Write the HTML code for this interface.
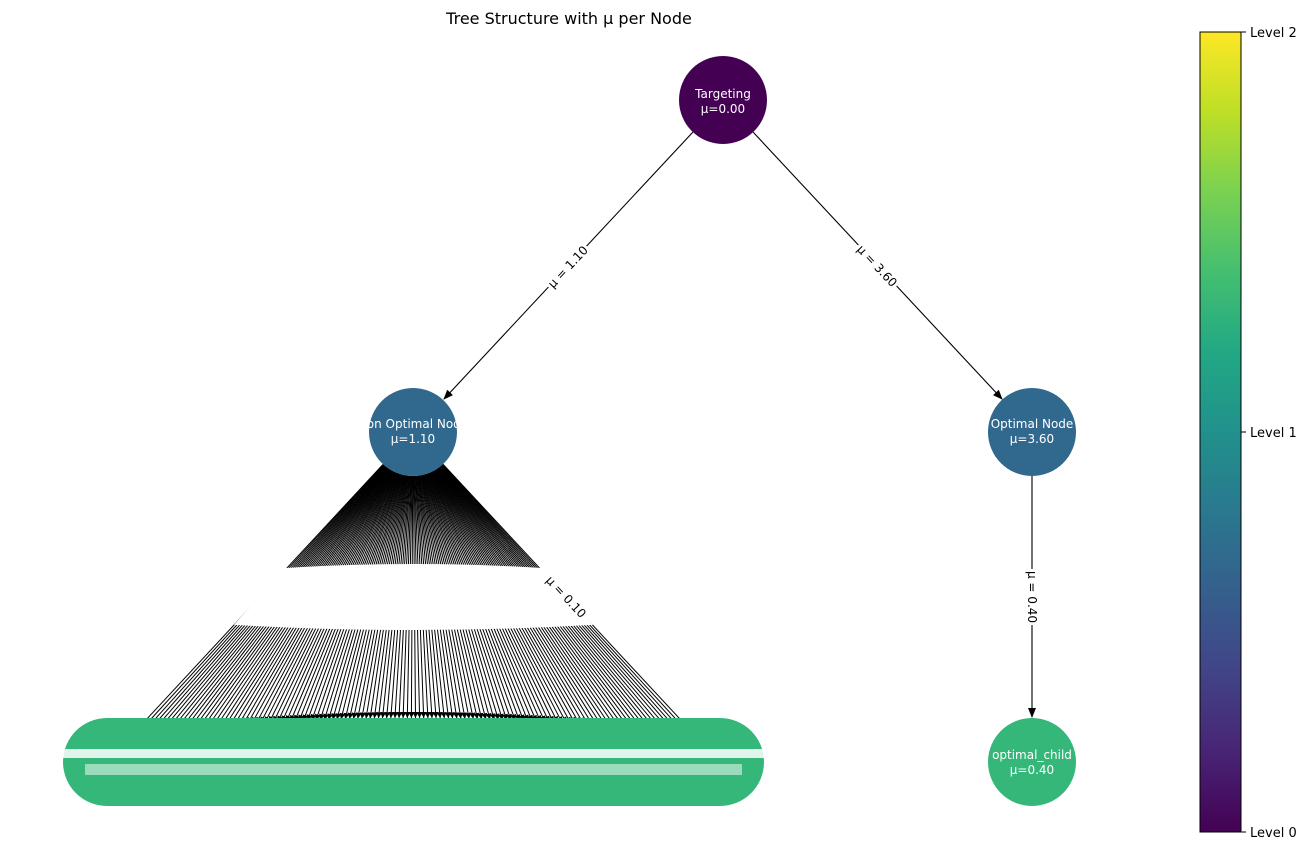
<!DOCTYPE html>
<html><head><meta charset="utf-8"><style>
html,body{margin:0;padding:0;background:#fff;width:1309px;height:850px;overflow:hidden}
svg text{font-family:"DejaVu Sans","Liberation Sans",sans-serif}
</style></head><body>
<svg id="s" width="1309" height="850" viewBox="0 0 1309 850" xmlns="http://www.w3.org/2000/svg">
<defs>
<linearGradient id="vir" x1="0" y1="1" x2="0" y2="0">
<stop offset="0" stop-color="#440154"/><stop offset="0.1" stop-color="#482475"/>
<stop offset="0.2" stop-color="#414487"/><stop offset="0.3" stop-color="#355f8d"/>
<stop offset="0.4" stop-color="#2a788e"/><stop offset="0.5" stop-color="#21918c"/>
<stop offset="0.6" stop-color="#22a884"/><stop offset="0.7" stop-color="#44bf70"/>
<stop offset="0.8" stop-color="#7ad151"/><stop offset="0.9" stop-color="#bddf26"/>
<stop offset="1" stop-color="#fde725"/>
</linearGradient>
<marker id="ar" markerWidth="10" markerHeight="8" refX="9" refY="4" orient="auto" markerUnits="userSpaceOnUse">
<path d="M0,0 L10,4 L0,8 Z" fill="#000"/></marker>
<marker id="ar2" markerWidth="6" markerHeight="6" refX="6" refY="3" orient="auto" markerUnits="userSpaceOnUse">
<path d="M0,0 L6,3 L0,6 Z" fill="#000"/></marker>
</defs>
<text x="569" y="24" font-size="16" text-anchor="middle">Tree Structure with μ per Node</text>
<g id="fan" stroke="#000" stroke-width="1" fill="none"></g>
<path d="M285,569 Q413,561 542,569 L591,624 Q413,634 236,624 Z" fill="#fff" stroke="#fff" stroke-width="2"/>
<line x1="693" y1="132" x2="444" y2="399" stroke="#000" stroke-width="1.1" marker-end="url(#ar)"/>
<line x1="753" y1="132" x2="1002" y2="399" stroke="#000" stroke-width="1.1" marker-end="url(#ar)"/>
<line x1="1032" y1="476" x2="1032" y2="717" stroke="#000" stroke-width="1.1" marker-end="url(#ar)"/>
<g font-size="12">
<g transform="translate(568,267) rotate(-47)"><rect x="-28" y="-9" width="56" height="18" fill="#fff"/><text text-anchor="middle" y="4">μ = 1.10</text></g>
<g transform="translate(877,266) rotate(47)"><rect x="-28" y="-9" width="56" height="18" fill="#fff"/><text text-anchor="middle" y="4">μ = 3.60</text></g>
<g transform="translate(1032,597) rotate(90)"><rect x="-28" y="-9" width="56" height="18" fill="#fff"/><text text-anchor="middle" y="4">μ = 0.40</text></g>
<g transform="translate(566,597) rotate(47)"><text text-anchor="middle" y="4">μ = 0.10</text></g>
</g>
<circle cx="723" cy="100" r="44" fill="#440154"/>
<circle cx="413" cy="432" r="44" fill="#31688e"/>
<circle cx="1032" cy="432" r="44" fill="#31688e"/>
<circle cx="1032" cy="762" r="44" fill="#35b779"/>
<rect x="63" y="718" width="701" height="88" rx="44" fill="#35b779"/>
<rect x="63" y="749" width="701" height="9" fill="#fff" opacity="0.85"/>
<rect x="85" y="764" width="657" height="11" fill="#fff" opacity="0.5"/>
<g fill="#fff" font-size="12" text-anchor="middle">
<text x="723" y="98">Targeting</text><text x="723" y="113">μ=0.00</text>
<text x="413" y="428">Non Optimal Node</text><text x="413" y="443">μ=1.10</text>
<text x="1032" y="428">Optimal Node</text><text x="1032" y="443">μ=3.60</text>
<text x="1032" y="759">optimal_child</text><text x="1032" y="774">μ=0.40</text>
</g>
<rect x="1200" y="32" width="41" height="800" fill="url(#vir)" stroke="#000" stroke-width="1"/>
<g stroke="#000"><line x1="1241" y1="32" x2="1246" y2="32"/><line x1="1241" y1="432" x2="1246" y2="432"/><line x1="1241" y1="832" x2="1246" y2="832"/></g>
<g font-size="13"><text x="1250" y="37">Level 2</text><text x="1250" y="437">Level 1</text><text x="1250" y="837">Level 0</text></g>
</svg>
<script>
var g=document.getElementById('fan'),n=130,s='';
for(var i=0;i<n;i++){var x=107+613*i/(n-1),dx=x-413,dy=330,L=Math.sqrt(dx*dx+dy*dy);
var x1=413+dx*44/L,y1=432+dy*44/L,x2=413+dx*(L-44)/L,y2=432+dy*(L-44)/L;
s+='<line x1="'+x1.toFixed(1)+'" y1="'+y1.toFixed(1)+'" x2="'+x2.toFixed(1)+'" y2="'+y2.toFixed(1)+'" stroke-width="1" marker-end="url(#ar2)"/>';}
g.innerHTML=s;
</script>
</body></html>
